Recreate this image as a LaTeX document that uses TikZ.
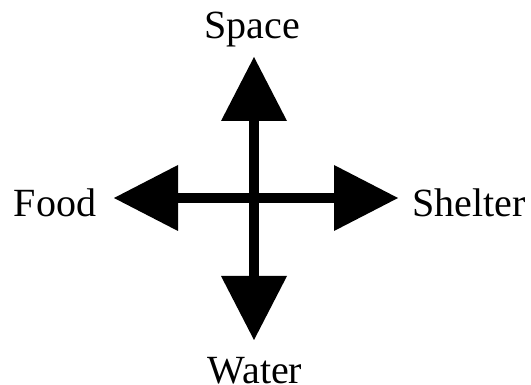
\documentclass[tikz,border=0pt]{standalone}
\usepackage{fontspec}
\setmainfont{Liberation Serif}
\usetikzlibrary{arrows.meta}
\tikzset{
  arr/.style={line width=10pt, -{Triangle[length=64pt,width=66pt,line width=0pt]}},
  lbl/.style={anchor=base, inner sep=0pt, font=\fontsize{40}{44}\selectfont}
}
\begin{document}
\begin{tikzpicture}[x=1pt,y=-1pt]
\useasboundingbox (0,0) rectangle (531,385);
\coordinate (c) at (254,198);
\coordinate (n) at (254,57);
\coordinate (s) at (254,340);
\coordinate (w) at (114,198);
\coordinate (e) at (398,198);
\draw[arr] (c) -- (n);
\draw[arr] (c) -- (s);
\draw[arr] (c) -- (w);
\draw[arr] (c) -- (e);
\node[lbl] (space) at (252,39) {Space};
\node[lbl] (food) at (55,217) {Food};
\node[lbl] (shelter) at (469,217) {Shelter};
\node[lbl] (water) at (255,383) {Water};
\end{tikzpicture}
\end{document}
